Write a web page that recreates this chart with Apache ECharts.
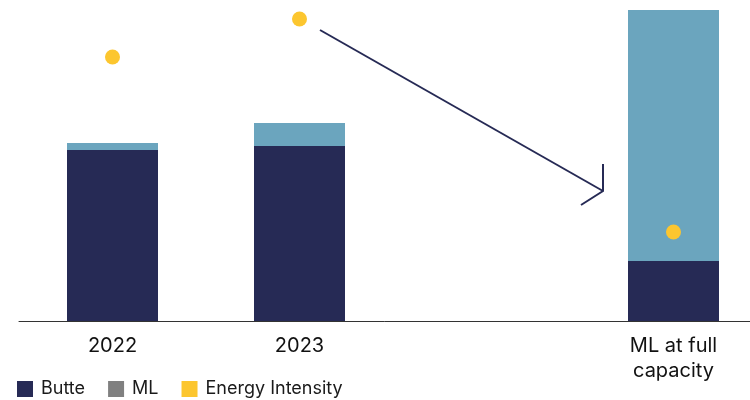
<!DOCTYPE html>
<html>
<head>
<meta charset="utf-8">
<script src="https://cdn.jsdelivr.net/npm/echarts@6/dist/echarts.min.js"></script>
<style>
    html, body { margin: 0; padding: 0; background: #fff; }
    #main { width: 750px; height: 400px; }
</style>
</head>
<body>
<div id="main"></div>
<script>
    // 数据
    var categories = ['2022', '2023', '', 'ML at full\ncapacity'];
    var butte = [171, 175, null, 60];
    var ml = [7, 23, null, 251];
    var intensity = [264, 302, null, 89];

    var myChart = echarts.init(document.getElementById('main'));

    var option = {
        animation: false,
        textStyle: { fontFamily: 'Inter' },
        grid: { left: 19, width: 748, top: 10, bottom: 79, outerBoundsMode: 'none', containLabel: false },
        legend: {
            left: 12,
            top: 375,
            itemWidth: 16,
            itemHeight: 16,
            itemGap: 23,
            textStyle: { fontSize: 18, color: '#1a1a1a', fontFamily: 'Inter', padding: [0, 0, 0, 3] },
            data: [
                { name: 'Butte', icon: 'rect', itemStyle: { color: '#262a55' } },
                { name: 'ML', icon: 'rect', itemStyle: { color: '#808080' } },
                { name: 'Energy Intensity', icon: 'rect', itemStyle: { color: '#fcc62f' } }
            ]
        },
        xAxis: {
            type: 'category',
            data: categories,
            axisTick: { show: false },
            axisLine: { lineStyle: { color: '#333', width: 1 } },
            axisLabel: { fontSize: 20, color: '#111', lineHeight: 25, margin: 12 }
        },
        yAxis: {
            type: 'value',
            min: 0,
            max: 311,
            show: false,
            splitLine: { show: false }
        },
        series: [
            {
                name: 'Butte',
                type: 'bar',
                stack: 'a',
                barWidth: 91,
                itemStyle: { color: '#262a55' },
                data: butte
            },
            {
                name: 'ML',
                type: 'bar',
                stack: 'a',
                barWidth: 91,
                itemStyle: { color: '#6ba5be' },
                data: ml
            },
            {
                name: 'Energy Intensity',
                type: 'scatter',
                symbolSize: 15,
                itemStyle: { color: '#fcc62f', opacity: 1 },
                data: intensity
            }
        ],
        // 箭头
        graphic: [
            {
                type: 'polyline',
                shape: { points: [[320, 30], [603, 191]] },
                style: { stroke: '#262a55', lineWidth: 2, fill: null }
            },
            {
                type: 'polyline',
                shape: { points: [[603, 164], [603, 191], [581, 205]] },
                style: { stroke: '#262a55', lineWidth: 2, fill: null }
            }
        ]
    };

    myChart.setOption(option);
</script>
</body>
</html>
